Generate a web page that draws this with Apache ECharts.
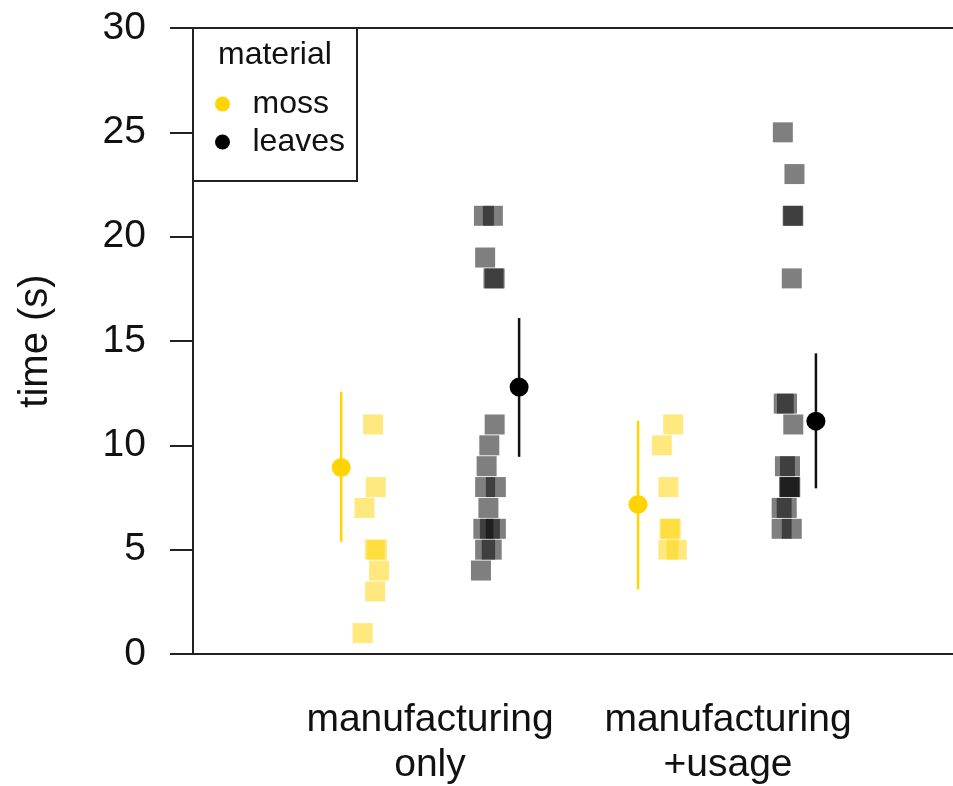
<!DOCTYPE html>
<html>
<head>
<meta charset="utf-8">
<script src="https://cdn.jsdelivr.net/npm/echarts@6/dist/echarts.min.js"></script>
<style>
  html, body { margin: 0; padding: 0; background: #fff; }
  #chart { width: 953px; height: 786px; }
</style>
</head>
<body>
<div id="chart"></div>
<script>
// groups sit at x = 1 and x = 2, points carry their jitter
const categories = ['manufacturing\nonly', 'manufacturing\n+usage']

const mossX = [0.809, 0.818, 0.780, 0.815, 0.822, 0.829, 0.816, 0.774,
  1.816, 1.778, 1.800, 1.804, 1.808, 1.800, 1.828]
const mossTime = [11, 8, 7, 5, 5, 4, 3, 1,
  11, 10, 8, 6, 6, 5, 5]

const leavesX = [1.181, 1.211, 1.185, 1.213, 1.217, 1.217, 1.199, 1.190, 1.185, 1.221, 1.196, 1.179, 1.201, 1.221, 1.185, 1.207, 1.171,
  2.184, 2.223, 2.217, 2.219, 2.214, 2.187, 2.198, 2.219, 2.191, 2.208, 2.205, 2.207, 2.209, 2.180, 2.197, 2.180, 2.214]
const leavesTime = [21, 21, 19, 18, 18, 11, 10, 9, 8, 8, 7, 6, 6, 6, 5, 5, 4,
  25, 23, 21, 21, 18, 12, 12, 11, 9, 9, 8, 8, 8, 7, 7, 6, 6]

const mossMeanX = [0.702, 1.698]
const mossMean = [8.94, 7.17]
const mossLow = [5.38, 3.10]
const mossHigh = [12.57, 11.18]

const leavesMeanX = [1.299, 2.295]
const leavesMean = [12.79, 11.16]
const leavesLow = [9.45, 7.94]
const leavesHigh = [16.1, 14.41]

const MOSS = 'rgb(255, 212, 0)'
const LEAVES = '#000'
const FONT = 'Liberation Sans, Arial, sans-serif'

function zip(a, b) { return a.map((v, i) => [v, b[i]]) }
function bars(x, lo, hi) { return x.map((v, i) => [v, lo[i], hi[i]]) }

function errorBar(color) {
  return function (params, api) {
    const p1 = api.coord([api.value(0), api.value(1)])
    const p2 = api.coord([api.value(0), api.value(2)])
    return {
      type: 'line',
      shape: { x1: p1[0], y1: p1[1], x2: p2[0], y2: p2[1] },
      style: { stroke: color, lineWidth: 2.5 }
    }
  }
}

const chart = echarts.init(document.getElementById('chart'))
const axisLine = { show: true, lineStyle: { color: '#222', width: 2 } }
const xMin = 0.2047, xMax = 2.755

chart.setOption({
  animation: false,
  backgroundColor: '#fff',
  textStyle: { fontFamily: FONT },
  grid: { left: 193, right: 0, top: 28, bottom: 132, outerBoundsMode: 'none' },
  title: {
    text: 'material',
    left: 218,
    top: 39,
    padding: 0,
    z: 20,
    textStyle: { fontSize: 32, fontWeight: 'normal', color: '#111', fontFamily: FONT }
  },
  legend: {
    data: ['moss', 'leaves'],
    orient: 'vertical',
    left: 193,
    top: 28,
    icon: 'circle',
    itemWidth: 50,
    itemHeight: 15,
    itemGap: 6,
    padding: [60, 12, 23, 22],
    borderColor: '#222',
    borderWidth: 2,
    backgroundColor: '#fff',
    textStyle: { fontSize: 32, color: '#111', fontFamily: FONT },
    z: 10
  },
  xAxis: [
    {
      type: 'value',
      min: xMin,
      max: xMax,
      axisLine: axisLine,
      axisTick: { show: false },
      splitLine: { show: false },
      axisLabel: {
        customValues: [1, 2],
        formatter: v => categories[Math.round(v) - 1],
        fontSize: 39,
        lineHeight: 45,
        margin: 44,
        color: '#111',
        fontFamily: FONT
      }
    },
    {
      type: 'value',
      position: 'top',
      min: xMin,
      max: xMax,
      axisLine: axisLine,
      axisTick: { show: false },
      axisLabel: { show: false },
      splitLine: { show: false }
    }
  ],
  yAxis: {
    type: 'value',
    min: 0,
    max: 30,
    interval: 5,
    name: 'time (s)',
    nameLocation: 'middle',
    nameGap: 137,
    nameTextStyle: { fontSize: 40, color: '#111', fontFamily: FONT },
    axisLine: axisLine,
    axisTick: { show: true, length: 23, lineStyle: { color: '#222', width: 2 } },
    splitLine: { show: false },
    axisLabel: { fontSize: 39, margin: 47, color: '#111', fontFamily: FONT }
  },
  series: [
    {
      name: 'moss points',
      type: 'scatter',
      symbol: 'rect',
      symbolSize: 20,
      itemStyle: { color: MOSS, opacity: 0.5 },
      data: zip(mossX, mossTime)
    },
    {
      name: 'leaves points',
      type: 'scatter',
      symbol: 'rect',
      symbolSize: 20,
      itemStyle: { color: LEAVES, opacity: 0.5 },
      data: zip(leavesX, leavesTime)
    },
    {
      name: 'moss bars',
      type: 'custom',
      renderItem: errorBar(MOSS),
      encode: { x: 0, y: [1, 2] },
      data: bars(mossMeanX, mossLow, mossHigh),
      z: 3
    },
    {
      name: 'leaves bars',
      type: 'custom',
      renderItem: errorBar('#111'),
      encode: { x: 0, y: [1, 2] },
      data: bars(leavesMeanX, leavesLow, leavesHigh),
      z: 3
    },
    {
      name: 'moss',
      type: 'scatter',
      symbol: 'circle',
      symbolSize: 19,
      itemStyle: { color: MOSS, opacity: 1 },
      data: zip(mossMeanX, mossMean),
      z: 4
    },
    {
      name: 'leaves',
      type: 'scatter',
      symbol: 'circle',
      symbolSize: 19,
      itemStyle: { color: LEAVES, opacity: 1 },
      data: zip(leavesMeanX, leavesMean),
      z: 4
    }
  ]
})
</script>
</body>
</html>
